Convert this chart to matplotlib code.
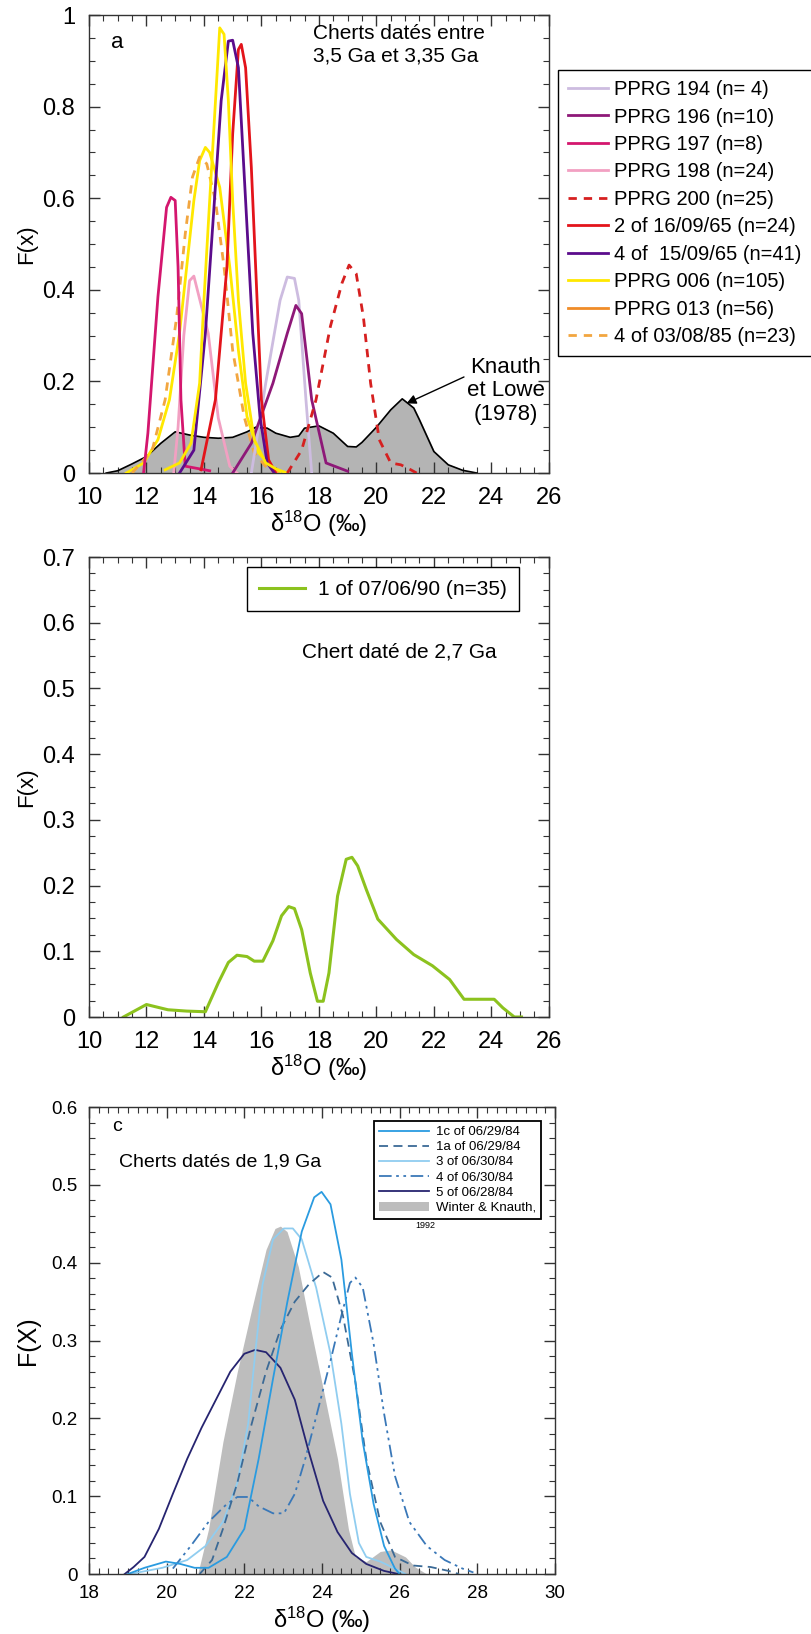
import matplotlib
matplotlib.use('Agg')
import matplotlib.pyplot as plt
from matplotlib.lines import Line2D
from matplotlib.ticker import MultipleLocator, FuncFormatter

plt.rcParams['font.family'] = ['Liberation Sans', 'DejaVu Sans']
plt.rcParams['mathtext.default'] = 'regular'

# ---------------- panel a: 3.5 - 3.35 Ga ----------------
kl_x = [10.6, 11.0, 11.5, 12.0, 12.5, 13.0, 13.5, 14.0, 14.5, 15.0, 15.5, 15.8, 16.2, 16.5,
        17.0, 17.3, 17.5, 18.0, 18.5, 19.0, 19.3, 19.5, 20.0, 20.5, 20.9, 21.3, 21.5, 22.0,
        22.5, 23.0, 23.5]
kl_y = [0.0, 0.005, 0.02, 0.036, 0.065, 0.09, 0.083, 0.078, 0.076, 0.078, 0.09, 0.10, 0.098,
        0.087, 0.078, 0.081, 0.098, 0.103, 0.087, 0.058, 0.057, 0.067, 0.10, 0.138, 0.162,
        0.142, 0.116, 0.047, 0.018, 0.006, 0.0]

p194_x = [15.65, 16.15, 16.65, 16.9, 17.15, 17.3, 17.55, 17.75]
p194_y = [0.0, 0.196, 0.377, 0.428, 0.425, 0.377, 0.16, 0.0]
p196_x = [15.0, 15.65, 16.4, 16.9, 17.2, 17.4, 17.75, 18.25, 19.0]
p196_y = [0.0, 0.065, 0.196, 0.305, 0.366, 0.348, 0.16, 0.022, 0.004]
p197_x = [11.9, 12.05, 12.4, 12.7, 12.85, 13.0, 13.1, 13.2, 13.35, 14.2]
p197_y = [0.0, 0.087, 0.385, 0.58, 0.602, 0.595, 0.45, 0.16, 0.015, 0.005]
p198_x = [12.95, 13.1, 13.3, 13.5, 13.65, 14.15, 14.5, 14.9, 15.15]
p198_y = [0.0, 0.1, 0.3, 0.42, 0.43, 0.305, 0.12, 0.015, 0.0]
p200_x = [16.9, 17.4, 17.9, 18.4, 18.8, 19.05, 19.3, 19.55, 19.8, 20.1, 20.5, 20.85, 21.2, 21.4]
p200_y = [0.0, 0.05, 0.16, 0.32, 0.414, 0.454, 0.435, 0.34, 0.196, 0.073, 0.022, 0.018, 0.007, 0.0]
s1609_x = [13.9, 14.4, 14.8, 15.0, 15.2, 15.3, 15.45, 15.65, 15.85, 16.0, 16.25, 16.5]
s1609_y = [0.007, 0.16, 0.45, 0.74, 0.925, 0.936, 0.885, 0.667, 0.377, 0.16, 0.029, 0.0]
s1509_x = [13.15, 13.65, 14.05, 14.35, 14.6, 14.85, 15.0, 15.2, 15.45, 15.7, 15.95, 16.2, 16.45]
s1509_y = [0.0, 0.05, 0.305, 0.58, 0.813, 0.943, 0.945, 0.885, 0.595, 0.305, 0.123, 0.022, 0.0]
p006_x = [12.65, 13.15, 13.55, 13.85, 14.0, 14.2, 14.4, 14.55, 14.7, 14.85, 15.0, 15.2, 15.45,
          15.75, 16.15, 16.65]
p006_y = [0.007, 0.022, 0.065, 0.196, 0.377, 0.595, 0.81, 0.972, 0.958, 0.813, 0.595, 0.377,
          0.196, 0.073, 0.022, 0.004]
p013_x = [11.3, 11.9, 12.4, 12.8, 13.15, 13.4, 13.65, 13.85, 14.05, 14.2, 14.55, 14.9, 15.2,
          15.5, 15.9, 16.4, 16.9]
p013_y = [0.0, 0.022, 0.073, 0.16, 0.305, 0.45, 0.595, 0.682, 0.711, 0.70, 0.624, 0.45, 0.268,
          0.123, 0.044, 0.011, 0.0]
s0308_x = [11.5, 12.2, 12.65, 13.05, 13.35, 13.6, 13.85, 14.1, 14.4, 14.7, 15.0, 15.4, 15.75,
           16.25, 16.6]
s0308_y = [0.0, 0.05, 0.16, 0.34, 0.522, 0.646, 0.69, 0.675, 0.595, 0.45, 0.268, 0.123, 0.044,
           0.007, 0.0]

labels_a = ['PPRG 194 (n= 4)', 'PPRG 196 (n=10)', 'PPRG 197 (n=8)', 'PPRG 198 (n=24)',
            'PPRG 200 (n=25)', '2 of 16/09/65 (n=24)', '4 of  15/09/65 (n=41)',
            'PPRG 006 (n=105)', 'PPRG 013 (n=56)', '4 of 03/08/85 (n=23)']

# ---------------- panel b: 2.7 Ga ----------------
g_x = [11.2, 12.0, 12.75, 13.4, 14.05, 14.5, 14.85, 15.15, 15.5, 15.75, 16.05, 16.4, 16.7,
       16.95, 17.15, 17.4, 17.7, 17.95, 18.15, 18.35, 18.65, 18.95, 19.15, 19.35, 19.65, 20.05,
       20.7, 21.3, 21.95, 22.55, 23.05, 23.4, 24.1, 24.4, 24.8, 25.05]
g_y = [0.0, 0.019, 0.011, 0.009, 0.008, 0.052, 0.083, 0.094, 0.092, 0.085, 0.085, 0.116, 0.154,
       0.168, 0.165, 0.133, 0.067, 0.024, 0.024, 0.067, 0.184, 0.24, 0.243, 0.23, 0.194, 0.149,
       0.118, 0.095, 0.078, 0.057, 0.027, 0.027, 0.027, 0.014, 0.0, 0.0]

# ---------------- panel c: 1.9 Ga ----------------
wk_x = [20.8, 21.08, 21.45, 21.82, 22.19, 22.56, 22.79, 22.93, 23.1, 23.39, 23.66, 24.03, 24.4,
        24.68, 24.86, 25.14, 25.5, 25.78, 26.15, 26.4, 26.7]
wk_y = [0.0, 0.058, 0.17, 0.26, 0.34, 0.417, 0.444, 0.447, 0.44, 0.395, 0.327, 0.238, 0.148,
        0.058, 0.022, 0.016, 0.029, 0.031, 0.022, 0.009, 0.0]
c1c_x = [19.0, 19.43, 19.98, 20.35, 20.72, 21.08, 21.55, 22.0, 22.37, 22.74, 23.11, 23.48, 23.8,
         23.99, 24.22, 24.5, 24.77, 25.05, 25.33, 25.6, 25.88, 26.0]
c1c_y = [0.0, 0.008, 0.016, 0.013, 0.008, 0.008, 0.022, 0.058, 0.148, 0.251, 0.35, 0.44, 0.484,
         0.491, 0.475, 0.404, 0.283, 0.17, 0.09, 0.036, 0.007, 0.0]
c1a_x = [20.85, 21.17, 21.45, 21.82, 22.19, 22.56, 22.93, 23.3, 23.66, 24.03, 24.26, 24.54, 24.86,
         25.14, 25.5, 25.88, 26.34, 26.8, 27.26, 27.53]
c1a_y = [0.0, 0.018, 0.058, 0.117, 0.193, 0.26, 0.314, 0.35, 0.372, 0.388, 0.381, 0.332, 0.247,
         0.148, 0.067, 0.022, 0.011, 0.009, 0.004, 0.0]
c3_x = [19.06, 19.89, 20.53, 21.0, 21.45, 21.82, 22.1, 22.28, 22.47, 22.74, 23.02, 23.25, 23.48,
        23.85, 24.22, 24.5, 24.72, 24.95, 25.14, 25.5, 25.88, 26.15]
c3_y = [0.0, 0.008, 0.018, 0.036, 0.067, 0.117, 0.193, 0.283, 0.372, 0.43, 0.444, 0.444, 0.43,
        0.368, 0.283, 0.193, 0.103, 0.04, 0.022, 0.016, 0.007, 0.0]
c4_x = [20.16, 20.62, 21.08, 21.55, 21.82, 22.1, 22.37, 22.74, 23.02, 23.3, 23.57, 23.85, 24.22,
        24.5, 24.72, 24.86, 25.05, 25.33, 25.6, 25.88, 26.25, 26.7, 27.16, 27.62, 27.9]
c4_y = [0.007, 0.036, 0.067, 0.09, 0.099, 0.099, 0.087, 0.078, 0.078, 0.103, 0.148, 0.202, 0.274,
        0.332, 0.374, 0.381, 0.368, 0.296, 0.206, 0.126, 0.067, 0.036, 0.018, 0.007, 0.002]
c5_x = [18.92, 19.15, 19.43, 19.8, 20.16, 20.53, 20.9, 21.27, 21.64, 22.0, 22.28, 22.56, 22.93,
        23.3, 23.66, 24.03, 24.4, 24.77, 25.14, 25.6, 25.97]
c5_y = [0.0, 0.009, 0.022, 0.058, 0.103, 0.148, 0.188, 0.224, 0.26, 0.283, 0.288, 0.285, 0.265,
        0.224, 0.157, 0.094, 0.054, 0.027, 0.013, 0.004, 0.0]

fig = plt.figure(figsize=(8.11, 16.34), dpi=100)
fig.patch.set_facecolor('white')


def style_axis(ax, xmaj, xmin, ymaj, ymin, fs, pad):
    ax.xaxis.set_major_locator(MultipleLocator(xmaj))
    ax.xaxis.set_minor_locator(MultipleLocator(xmin))
    ax.yaxis.set_major_locator(MultipleLocator(ymaj))
    ax.yaxis.set_minor_locator(MultipleLocator(ymin))
    ax.tick_params(which='both', direction='in', top=True, right=True, color='#333333')
    ax.tick_params(which='major', length=8, width=1, labelsize=fs, pad=pad)
    ax.tick_params(which='minor', length=4, width=0.8)
    ax.yaxis.set_major_formatter(FuncFormatter(lambda v, p: '0' if abs(v) < 1e-9 else
                                               ('1' if abs(v - 1) < 1e-9 else f'{v:.1f}')))
    ax.xaxis.set_major_formatter(FuncFormatter(lambda v, p: f'{v:.0f}'))
    for s in ax.spines.values():
        s.set_linewidth(1.0)
        s.set_color('#333333')


# --- a ---
ax1 = fig.add_axes([0.1097, 0.7105, 0.567, 0.2803])
ax1.fill_between(kl_x, kl_y, color='#B4B4B4', zorder=1)
ax1.plot(kl_x, kl_y, color='black', lw=1.2, zorder=2)
lw = 2.0
ax1.plot(p013_x, p013_y, color='#FFE800', lw=lw, zorder=3)
ax1.plot(s0308_x, s0308_y, color='#F2A640', lw=lw, ls=(0, (3, 2.5)), zorder=3)
ax1.plot(p198_x, p198_y, color='#F2A0C2', lw=lw, zorder=3)
ax1.plot(p197_x, p197_y, color='#D4166E', lw=lw, zorder=4)
ax1.plot(p194_x, p194_y, color='#CDBCE0', lw=lw, zorder=3)
ax1.plot(p196_x, p196_y, color='#8E1878', lw=lw, zorder=4)
ax1.plot(p200_x, p200_y, color='#D62020', lw=lw, ls=(0, (3, 2.5)), zorder=4)
ax1.plot(s1609_x, s1609_y, color='#E3141B', lw=lw, zorder=4)
ax1.plot(s1509_x, s1509_y, color='#5B0C8C', lw=lw, zorder=5)
ax1.plot(p006_x, p006_y, color='#FFE800', lw=lw, zorder=6)
ax1.set_xlim(10, 26)
ax1.set_ylim(0, 1)
style_axis(ax1, 2, 0.5, 0.2, 0.05, 17, 10)
ax1.set_xlabel('δ$^{18}$O (‰)', fontsize=17, labelpad=0)
ax1.set_ylabel('F(x)', fontsize=16, labelpad=4)
ax1.text(10.75, 0.94, 'a', fontsize=16, ha='left', va='center')
ax1.text(17.8, 0.98, 'Cherts datés entre\n3,5 Ga et 3,35 Ga', fontsize=15, ha='left',
         va='top', linespacing=1.25)
ax1.annotate('Knauth\net Lowe\n(1978)', xy=(21.05, 0.152), xytext=(24.5, 0.18),
             fontsize=16, ha='center', va='center', linespacing=1.15,
             arrowprops=dict(arrowstyle='-|>', color='black', lw=1, mutation_scale=14,
                             shrinkA=0, shrinkB=0, relpos=(0.0, 0.72)))

leg_colors = ['#CDBCE0', '#8E1878', '#D4166E', '#F2A0C2', '#D62020', '#E3141B', '#5B0C8C',
              '#FFE800', '#F08C28', '#F2A640']
leg_styles = ['-', '-', '-', '-', (0, (3, 2.5)), '-', '-', '-', '-', (0, (3, 2.5))]
handles = [Line2D([], [], color=c, lw=2.0, ls=s) for c, s in zip(leg_colors, leg_styles)]
fig.legend(handles, labels_a, loc='upper left', bbox_to_anchor=(558 / 811, 1 - 70 / 1634),
           fontsize=14.5, frameon=True, fancybox=False, edgecolor='black', framealpha=1,
           handlelength=2.0, handletextpad=0.3, labelspacing=0.42, borderpad=0.5,
           borderaxespad=0).get_frame().set_linewidth(1.0)

# --- b ---
ax2 = fig.add_axes([0.1097, 0.3776, 0.567, 0.2815])
ax2.plot(g_x, g_y, color='#8CC21E', lw=2.2, label='1 of 07/06/90 (n=35)')
ax2.set_xlim(10, 26)
ax2.set_ylim(0, 0.7)
style_axis(ax2, 2, 0.5, 0.1, 0.025, 17, 10)
ax2.set_xlabel('δ$^{18}$O (‰)', fontsize=17, labelpad=0)
ax2.set_ylabel('F(x)', fontsize=16, labelpad=4)
ax2.text(17.4, 0.555, 'Chert daté de 2,7 Ga', fontsize=15, ha='left', va='center')
lg2 = ax2.legend(loc='upper right', bbox_to_anchor=(0.958, 1.0), fontsize=15, frameon=True,
                 fancybox=False, edgecolor='black', framealpha=1, handlelength=2.2,
                 handletextpad=0.6, borderpad=0.6, borderaxespad=0.5)
lg2.get_frame().set_linewidth(1.0)

# --- c ---
ax3 = fig.add_axes([0.1097, 0.0367, 0.5746, 0.2858])
ax3.fill_between(wk_x, wk_y, color='#BDBDBD', lw=0, label='Winter & Knauth,')
ax3.plot(c5_x, c5_y, color='#262470', lw=1.3, label='5 of 06/28/84')
ax3.plot(c3_x, c3_y, color='#90CDF0', lw=1.3, label='3 of 06/30/84')
ax3.plot(c4_x, c4_y, color='#3A78B8', lw=1.3, ls=(0, (7, 2.5, 1.5, 2.5, 1.5, 2.5)),
         label='4 of 06/30/84')
ax3.plot(c1a_x, c1a_y, color='#3B6A96', lw=1.3, ls=(0, (5, 3)), label='1a of 06/29/84')
ax3.plot(c1c_x, c1c_y, color='#2A9BE0', lw=1.3, label='1c of 06/29/84')
ax3.set_xlim(18, 30)
ax3.set_ylim(0, 0.6)
style_axis(ax3, 2, 0.25, 0.1, 0.02, 13.5, 8)
ax3.set_xlabel('δ$^{18}$O (‰)', fontsize=17, labelpad=2)
ax3.set_ylabel('F(X)', fontsize=18, labelpad=8)
ax3.text(18.6, 0.575, 'c', fontsize=14, ha='left', va='center')
ax3.text(18.78, 0.53, 'Cherts datés de 1,9 Ga', fontsize=14, ha='left', va='center')
h, l = ax3.get_legend_handles_labels()
order = [5, 4, 2, 3, 1, 0]
lg3 = ax3.legend([h[i] for i in order], [l[i] for i in order], loc='upper right',
                 bbox_to_anchor=(0.985, 0.985), fontsize=9.5, frameon=True, fancybox=False,
                 edgecolor='black', framealpha=1, handlelength=3.8, handletextpad=0.5,
                 labelspacing=0.22, borderpad=0.4)
lg3.get_frame().set_linewidth(1.3)
ax3.text(0.7, 0.747, '1992', transform=ax3.transAxes, fontsize=6.5, ha='left', va='center')

fig.savefig('out.png', dpi=100, facecolor='white')
